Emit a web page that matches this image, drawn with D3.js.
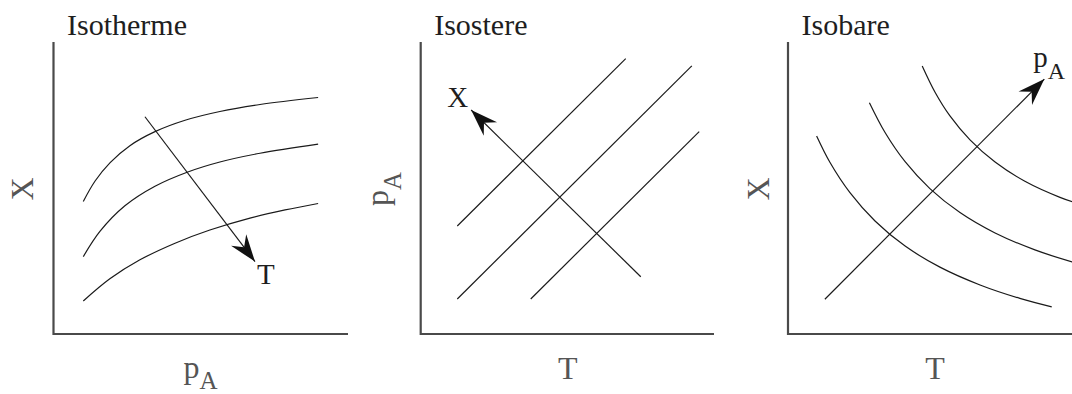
<!DOCTYPE html>
<html>
<head>
<meta charset="utf-8">
<script src="https://cdn.jsdelivr.net/npm/d3@7"></script>
<style>
    body { margin: 0; background: #fff; }
    .axis { stroke: #4a4a4a; stroke-width: 2.2; fill: none; }
    .curve { stroke: #1a1a1a; stroke-width: 1.2; fill: none; }
    .arrow { stroke: #1a1a1a; stroke-width: 1.2; fill: none; }
    .title { font-family: "Liberation Serif", "Times New Roman", serif; font-size: 30px; fill: #1e1e1e; }
    .axisLabel { font-family: "Liberation Serif", "Times New Roman", serif; font-size: 32px; fill: #555; }
    .arrowLabel { font-family: "Liberation Serif", "Times New Roman", serif; font-size: 29px; fill: #1e1e1e; }
</style>
</head>
<body>
<script>
//panel titles and axis names
var titles = ["Isotherme", "Isostere", "Isobare"];
var xNames = [["p", "A"], ["T", ""], ["T", ""]];
var yNames = [["X", ""], ["p", "A"], ["X", ""]];
var arrowNames = [["T", ""], ["X", ""], ["p", "A"]];

//isotherms X(pA), 0-100 units on each axis
var isothermHigh = [[10.1, 45.4], [14.1, 52.4], [19.2, 58.7], [25.9, 64.5], [34.4, 69.3], [44.6, 73.2], [56.4, 76.2], [70.0, 78.6], [89.7, 81.0]];
var isothermMid = [[10.1, 26.5], [15.8, 35.2], [24.2, 43.9], [34.4, 50.6], [45.3, 55.4], [56.4, 58.9], [70.0, 61.9], [89.7, 65.0]];
var isothermLow = [[10.1, 11.3], [19.1, 18.9], [29.3, 25.4], [41.2, 31.1], [53.0, 35.6], [66.6, 39.7], [78.5, 42.5], [89.7, 44.7]];
var isothermArrow = [[31.0, 74.4], [68.3, 24.8]];

//isosteres pA(T)
var isostereA = [[12.4, 37.0], [69.5, 94.3]];
var isostereB = [[12.4, 12.0], [91.9, 91.8]];
var isostereC = [[37.3, 12.0], [94.4, 69.3]];
var isostereArrow = [[74.6, 19.6], [17.1, 76.7]];

//isobars X(T)
var isobarLow = [[9.7, 67.8], [14.2, 58.8], [21.0, 48.4], [29.5, 38.7], [39.7, 30.1], [51.5, 22.9], [65.1, 16.8], [78.6, 12.2], [89.4, 9.3]];
var isobarMid = [[27.6, 79.2], [32.9, 69.0], [39.7, 59.0], [48.1, 49.8], [58.3, 41.6], [70.2, 34.6], [83.7, 28.8], [96.3, 24.7], [102.4, 23.1]];
var isobarHigh = [[45.5, 91.8], [49.8, 82.9], [54.9, 74.7], [61.7, 66.5], [70.2, 58.9], [80.3, 52.3], [92.2, 46.8], [102.4, 43.3]];
var isobarArrow = [[12.5, 11.9], [86.9, 87.3]];

var panelCurves = [
    [isothermHigh, isothermMid, isothermLow],
    [isostereA, isostereB, isostereC],
    [isobarLow, isobarMid, isobarHigh]
];
var panelArrows = [isothermArrow, isostereArrow, isobarArrow];

function drawChart(){
    var width = 1072,
        height = 394;

    var svg = d3.select("body")
        .append("svg")
        .attr("width", width)
        .attr("height", height);

    //barbed arrow head
    svg.append("defs").append("marker")
        .attr("id", "head")
        .attr("markerUnits", "userSpaceOnUse")
        .attr("viewBox", "-28 -12 30 24")
        .attr("refX", 0)
        .attr("refY", 0)
        .attr("markerWidth", 30)
        .attr("markerHeight", 24)
        .attr("orient", "auto")
        .append("path")
        .attr("d", "M0,0 L-27,-9.5 L-18,0 L-27,9.5 Z")
        .attr("fill", "#111");

    //panel frames: origin x, axis length, y label offset
    var originX = [53.5, 420.7, 788],
        axisLen = [294.5, 293.3, 290],
        yLabelOff = [-20.5, -33, -19],
        top = 42,
        bottom = 334;

    //arrow label offsets from the arrow tip
    var arrowLabelPos = [[2, 22, "start"], [-3, -3, "end"], [-11, -12, "start"]];

    titles.forEach(function(title, i){
        var x = d3.scaleLinear().domain([0, 100]).range([originX[i], originX[i] + 295]);
        var y = d3.scaleLinear().domain([0, 100]).range([bottom, bottom - 292]);

        var g = svg.append("g").attr("class", "panel");

        //axes
        g.append("path")
            .attr("class", "axis")
            .attr("d", "M" + originX[i] + "," + top + "V" + bottom + "H" + (originX[i] + axisLen[i]));

        var line = d3.line()
            .x(function(d){ return x(d[0]); })
            .y(function(d){ return y(d[1]); })
            .curve(d3.curveCatmullRom.alpha(0.5));

        g.selectAll(".curve")
            .data(panelCurves[i])
            .enter()
            .append("path")
            .attr("class", "curve")
            .attr("d", line);

        var straight = d3.line()
            .x(function(d){ return x(d[0]); })
            .y(function(d){ return y(d[1]); });

        g.append("path")
            .datum(panelArrows[i])
            .attr("class", "arrow")
            .attr("d", straight)
            .attr("marker-end", "url(#head)");

        //title
        g.append("text")
            .attr("class", "title")
            .attr("x", originX[i] + 13.5)
            .attr("y", 35)
            .text(title);

        //x axis label
        var xl = g.append("text")
            .attr("class", "axisLabel")
            .attr("x", originX[i] + 147)
            .attr("y", xNames[i][1] ? 378 : 379)
            .attr("text-anchor", "middle");
        xl.append("tspan").text(xNames[i][0]);
        if (xNames[i][1]) xl.append("tspan").attr("font-size", "25px").attr("dy", 11).text(xNames[i][1]);

        //y axis label, rotated
        var yl = g.append("text")
            .attr("class", "axisLabel")
            .attr("transform", "translate(" + (originX[i] + yLabelOff[i]) + ",189) rotate(-90)")
            .attr("text-anchor", "middle");
        yl.append("tspan").text(yNames[i][0]);
        if (yNames[i][1]) yl.append("tspan").attr("font-size", "25px").attr("dy", 13).text(yNames[i][1]);

        //arrow label
        var tip = panelArrows[i][1];
        var al = g.append("text")
            .attr("class", "arrowLabel")
            .attr("x", x(tip[0]) + arrowLabelPos[i][0])
            .attr("y", y(tip[1]) + arrowLabelPos[i][1])
            .attr("text-anchor", arrowLabelPos[i][2]);
        al.append("tspan").text(arrowNames[i][0]);
        if (arrowNames[i][1]) al.append("tspan").attr("font-size", "24px").attr("dy", 12).text(arrowNames[i][1]);
    });
}

window.onload = drawChart();
</script>
</body>
</html>
